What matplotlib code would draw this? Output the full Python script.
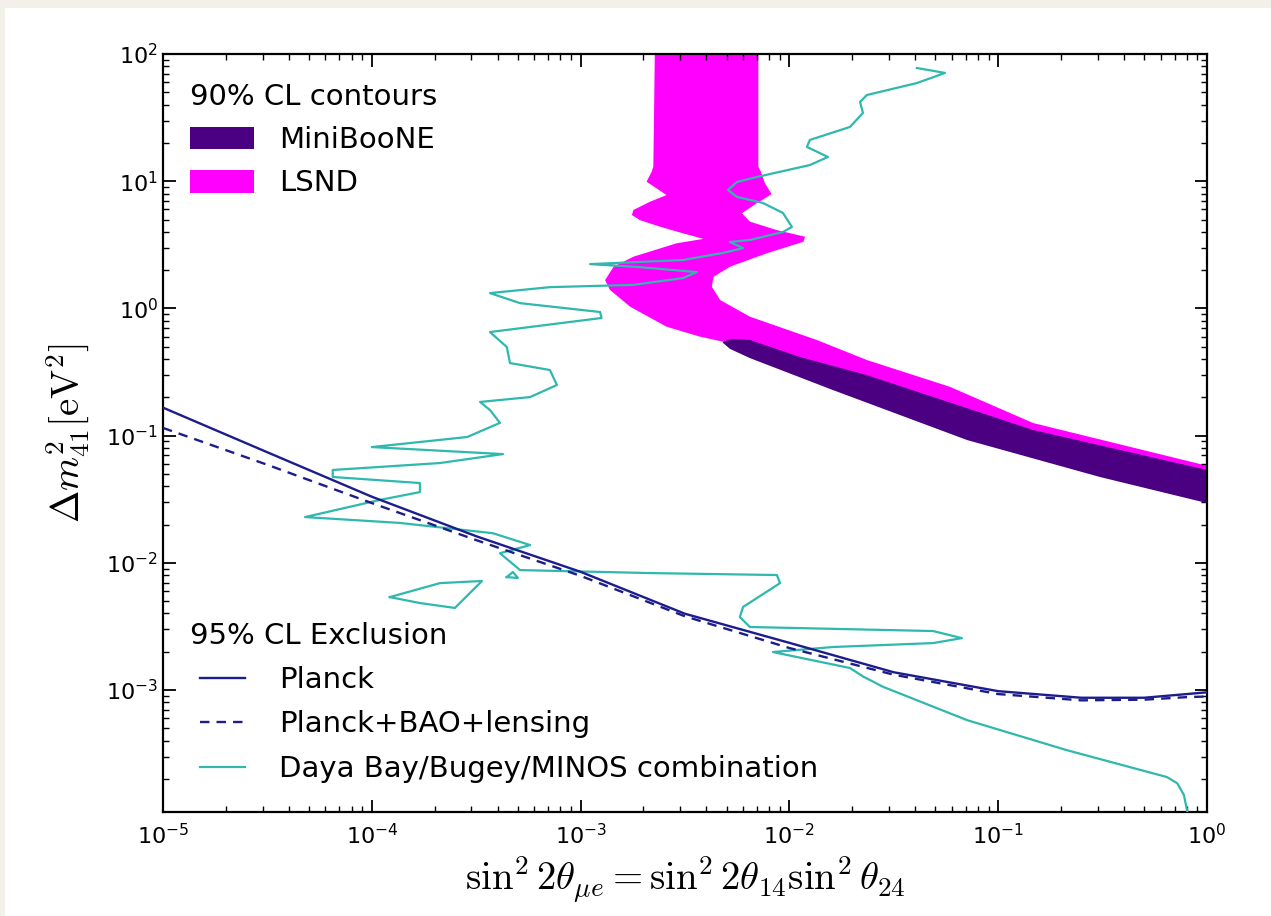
import matplotlib
matplotlib.use("Agg")
import matplotlib.pyplot as plt
from matplotlib.patches import Patch, Polygon, Rectangle
from matplotlib.lines import Line2D
from matplotlib.legend_handler import HandlerLine2D
from matplotlib.ticker import FixedLocator, LogLocator, NullFormatter, LogFormatterSciNotation
import numpy as np

plt.rcParams["mathtext.fontset"] = "cm"
plt.rcParams["font.family"] = ["DejaVu Sans"]

# ---- Planck bounds (95% CL) ----
planck_s2 = [1e-5, 3.16e-5, 1e-4, 3.16e-4, 1e-3, 3.16e-3, 1e-2, 3.16e-2, 0.1, 0.25, 0.5, 0.8, 1.0]
planck_dm2 = [0.166, 0.074, 0.0331, 0.0162, 0.0085, 0.00398, 0.00235, 0.00138, 0.00098, 0.00087, 0.00087, 0.00093, 0.00096]
planck_bao_dm2 = [0.115, 0.059, 0.0295, 0.0151, 0.0079, 0.0038, 0.00214, 0.00132, 0.00093, 0.00083, 0.00084, 0.00088, 0.00089]

# ---- Daya Bay / Bugey / MINOS combined exclusion contour ----
daya_s2 = [0.0408, 0.0556, 0.0408, 0.0235, 0.0218, 0.0225, 0.0195, 0.01253, 0.01213, 0.0153,
           0.01253, 0.0070, 0.00561, 0.00508, 0.00561, 0.00746, 0.00931, 0.01028, 0.00931, 0.00647,
           0.00519, 0.0060, 0.00481, 0.00309, 0.00111, 0.00192, 0.00360, 0.00309, 0.00178, 0.000713,
           0.000368, 0.000513, 0.00124, 0.00126, 0.000368, 0.000443, 0.000459, 0.000713, 0.00077, 0.000573,
           0.00033, 0.000368, 0.000411, 0.000286, 0.0001, 0.000425, 0.000212, 6.5e-5, 6.5e-5, 0.00017,
           0.00017, 0.000109, 4.79e-5, 0.000136, 0.00038, 0.000573, 0.000411, 0.000513, 0.00215, 0.00871,
           0.00902, 0.0060, 0.00579, 0.00647, 0.0488, 0.067, 0.0488, 0.01618, 0.00834,
           0.0195, 0.0225, 0.0281, 0.0710, 0.213, 0.643, 0.72, 0.775, 0.81]
daya_dm2 = [77.6, 71.0, 59.1, 47.6, 42.0, 34.4, 26.7, 21.1, 18.6, 15.5,
            13.4, 10.8, 9.86, 8.53, 7.52, 6.75, 5.63, 4.37, 3.99, 3.45,
            3.33, 2.98, 2.73, 2.40, 2.23, 2.11, 1.93, 1.73, 1.53, 1.47,
            1.32, 1.10, 0.937, 0.841, 0.652, 0.498, 0.372, 0.328, 0.250, 0.201,
            0.184, 0.159, 0.126, 0.0975, 0.0813, 0.0716, 0.0609, 0.0537, 0.0473, 0.0424,
            0.0360, 0.0312, 0.0229, 0.0206, 0.0171, 0.0138, 0.0119, 0.00877, 0.00831, 0.00802,
            0.00693, 0.0045, 0.00375, 0.00313, 0.00291, 0.00256, 0.00234, 0.00218, 0.00199,
            0.00149, 0.00128, 0.00106, 0.00058, 0.000337, 0.000207, 0.000185, 0.000150, 0.000105]
island_s2 = [0.000122, 0.000212, 0.000337, 0.00025, 0.00017, 0.000122]
island_dm2 = [0.00538, 0.00693, 0.0072, 0.00442, 0.00483, 0.00538]
speck_s2 = [0.000443, 0.000474, 0.000501, 0.000443]
speck_dm2 = [0.00773, 0.00848, 0.0076, 0.00773]

# ---- LSND 90% CL allowed region (outline, clockwise) ----
lsnd_s2 = [0.00227, 0.00223, 0.00219, 0.00207, 0.00231, 0.00258, 0.00215, 0.00179, 0.00176, 0.00192,
           0.0024, 0.0031, 0.00387, 0.00288, 0.00179, 0.00144, 0.00131, 0.00138, 0.00173, 0.00258,
           0.00373, 0.00482, 0.00902, 0.01618, 0.0710, 0.307, 1.0,
           1.0, 0.147, 0.0587, 0.0235, 0.01352, 0.00647, 0.00466, 0.00425, 0.00433, 0.0052,
           0.00778, 0.01167, 0.01189, 0.00869, 0.00647, 0.00592, 0.00697, 0.00822, 0.00764, 0.0073,
           0.0071, 0.0071]
lsnd_dm2 = [120, 13.0, 11.9, 9.91, 8.79, 7.78, 6.90, 5.94, 5.42, 4.95,
            4.39, 3.89, 3.52, 3.25, 2.55, 2.13, 1.67, 1.40, 1.03, 0.718,
            0.600, 0.547, 0.345, 0.232, 0.094, 0.048, 0.030,
            0.058, 0.1256, 0.242, 0.393, 0.565, 0.861, 1.164, 1.48, 1.77, 2.13,
            2.71, 3.34, 3.66, 4.13, 4.81, 5.60, 6.70, 7.92, 9.62, 11.9,
            13.0, 120]

# ---- MiniBooNE 90% CL allowed region ----
mb_s2 = [0.00478, 0.00505, 0.0055, 0.00647, 0.01125, 0.0235, 0.147, 1.0,
         1.0, 0.307, 0.0710, 0.01618, 0.00647, 0.0052, 0.00478]
mb_dm2 = [0.54, 0.565, 0.575, 0.565, 0.415, 0.299, 0.1107, 0.0537,
          0.0295, 0.0473, 0.0923, 0.228, 0.407, 0.48, 0.54]

NAVY = "#1c1c8c"
TEAL = "#2fb8ad"
INDIGO = "#4b0082"
MAGENTA = "#ff00ff"
DASH = (0, (4, 3))


class InsetLineHandler(HandlerLine2D):
    """Legend line that covers only the middle part of the handle box."""
    def create_artists(self, legend, orig_handle, xdescent, ydescent, width, height, fontsize, trans):
        artists = super().create_artists(legend, orig_handle, xdescent, ydescent,
                                         width, height, fontsize, trans)
        for a in artists:
            xd = np.asarray(a.get_xdata(), dtype=float)
            if xd.size >= 2:
                x0, x1 = xd.min(), xd.max()
                a.set_xdata(np.linspace(x0 + 0.15 * (x1 - x0), x0 + 0.85 * (x1 - x0), xd.size))
        return artists


fig = plt.figure(figsize=(12.71, 9.16), dpi=100)
fig.patch.set_facecolor("#f3f0ea")
fig.add_artist(Rectangle((5 / 1271, 0), 1, 1 - 8 / 916, transform=fig.transFigure,
                         facecolor="white", edgecolor="none", zorder=-10))

ax = fig.add_axes([163 / 1271, 1 - 812 / 916, (1207 - 163) / 1271, (812 - 54) / 916])
ax.set_xscale("log")
ax.set_yscale("log")
ax.set_xlim(1e-5, 1.0)
ax.set_ylim(1.1e-4, 100)

ax.add_patch(Polygon(np.column_stack([lsnd_s2, lsnd_dm2]), closed=True,
                     facecolor=MAGENTA, edgecolor="none", zorder=1))
ax.add_patch(Polygon(np.column_stack([mb_s2, mb_dm2]), closed=True,
                     facecolor=INDIGO, edgecolor="none", zorder=2))

ax.plot(daya_s2, daya_dm2, color=TEAL, lw=1.6, zorder=3)
ax.plot(island_s2, island_dm2, color=TEAL, lw=1.6, zorder=3)
ax.plot(speck_s2, speck_dm2, color=TEAL, lw=1.6, zorder=3)
ax.plot(planck_s2, planck_dm2, color=NAVY, lw=1.7, zorder=4)
ax.plot(planck_s2, planck_bao_dm2, color=NAVY, lw=1.7, ls=DASH, zorder=4)

ax.xaxis.set_major_locator(FixedLocator([1e-5, 1e-4, 1e-3, 1e-2, 1e-1, 1e0]))
ax.yaxis.set_major_locator(FixedLocator([1e-3, 1e-2, 1e-1, 1e0, 1e1, 1e2]))
ax.xaxis.set_major_formatter(LogFormatterSciNotation())
ax.yaxis.set_major_formatter(LogFormatterSciNotation())
for axis in (ax.xaxis, ax.yaxis):
    axis.set_minor_locator(LogLocator(base=10, subs=np.arange(2, 10), numticks=20))
    axis.set_minor_formatter(NullFormatter())

ax.tick_params(which="both", direction="in", top=True, right=True, labelsize=16)
ax.tick_params(axis="x", which="major", pad=8)
ax.tick_params(which="major", length=9, width=1.3)
ax.tick_params(which="minor", length=4.5, width=1.0)
for s in ax.spines.values():
    s.set_linewidth(1.6)

ax.set_xlabel(r"$\sin^2 2\theta_{\mu e} = \sin^2 2\theta_{14}\sin^2\theta_{24}$", fontsize=28, labelpad=4)
ax.set_ylabel(r"$\Delta m^2_{41}[\mathrm{eV}^2]$", fontsize=28, labelpad=10)

# upper legend: allowed regions
h1 = [Patch(facecolor=INDIGO, edgecolor="none"), Patch(facecolor=MAGENTA, edgecolor="none")]
leg1 = ax.legend(h1, ["MiniBooNE", "LSND"], title="90% CL contours", loc="upper left",
                 frameon=False, fontsize=21, title_fontsize=21, alignment="left",
                 handlelength=2.2, handleheight=0.8, handletextpad=0.85, labelspacing=0.52,
                 borderaxespad=0.6, bbox_to_anchor=(-0.002, 1.0))
ax.add_artist(leg1)

# lower legend: exclusion limits
h2 = [Line2D([], [], color=NAVY, lw=1.7),
      Line2D([], [], color=NAVY, lw=1.7, ls=DASH),
      Line2D([], [], color=TEAL, lw=1.6)]
ax.legend(h2, ["Planck", "Planck+BAO+lensing", "Daya Bay/Bugey/MINOS combination"],
          title="95% CL Exclusion", loc="lower left", frameon=False, fontsize=21,
          title_fontsize=21, alignment="left", handlelength=2.2, handletextpad=0.85,
          labelspacing=0.56, borderaxespad=0.6, bbox_to_anchor=(-0.002, 0.0),
          handler_map={Line2D: InsetLineHandler()})

fig.savefig("out.png", dpi=100, facecolor=fig.get_facecolor())
